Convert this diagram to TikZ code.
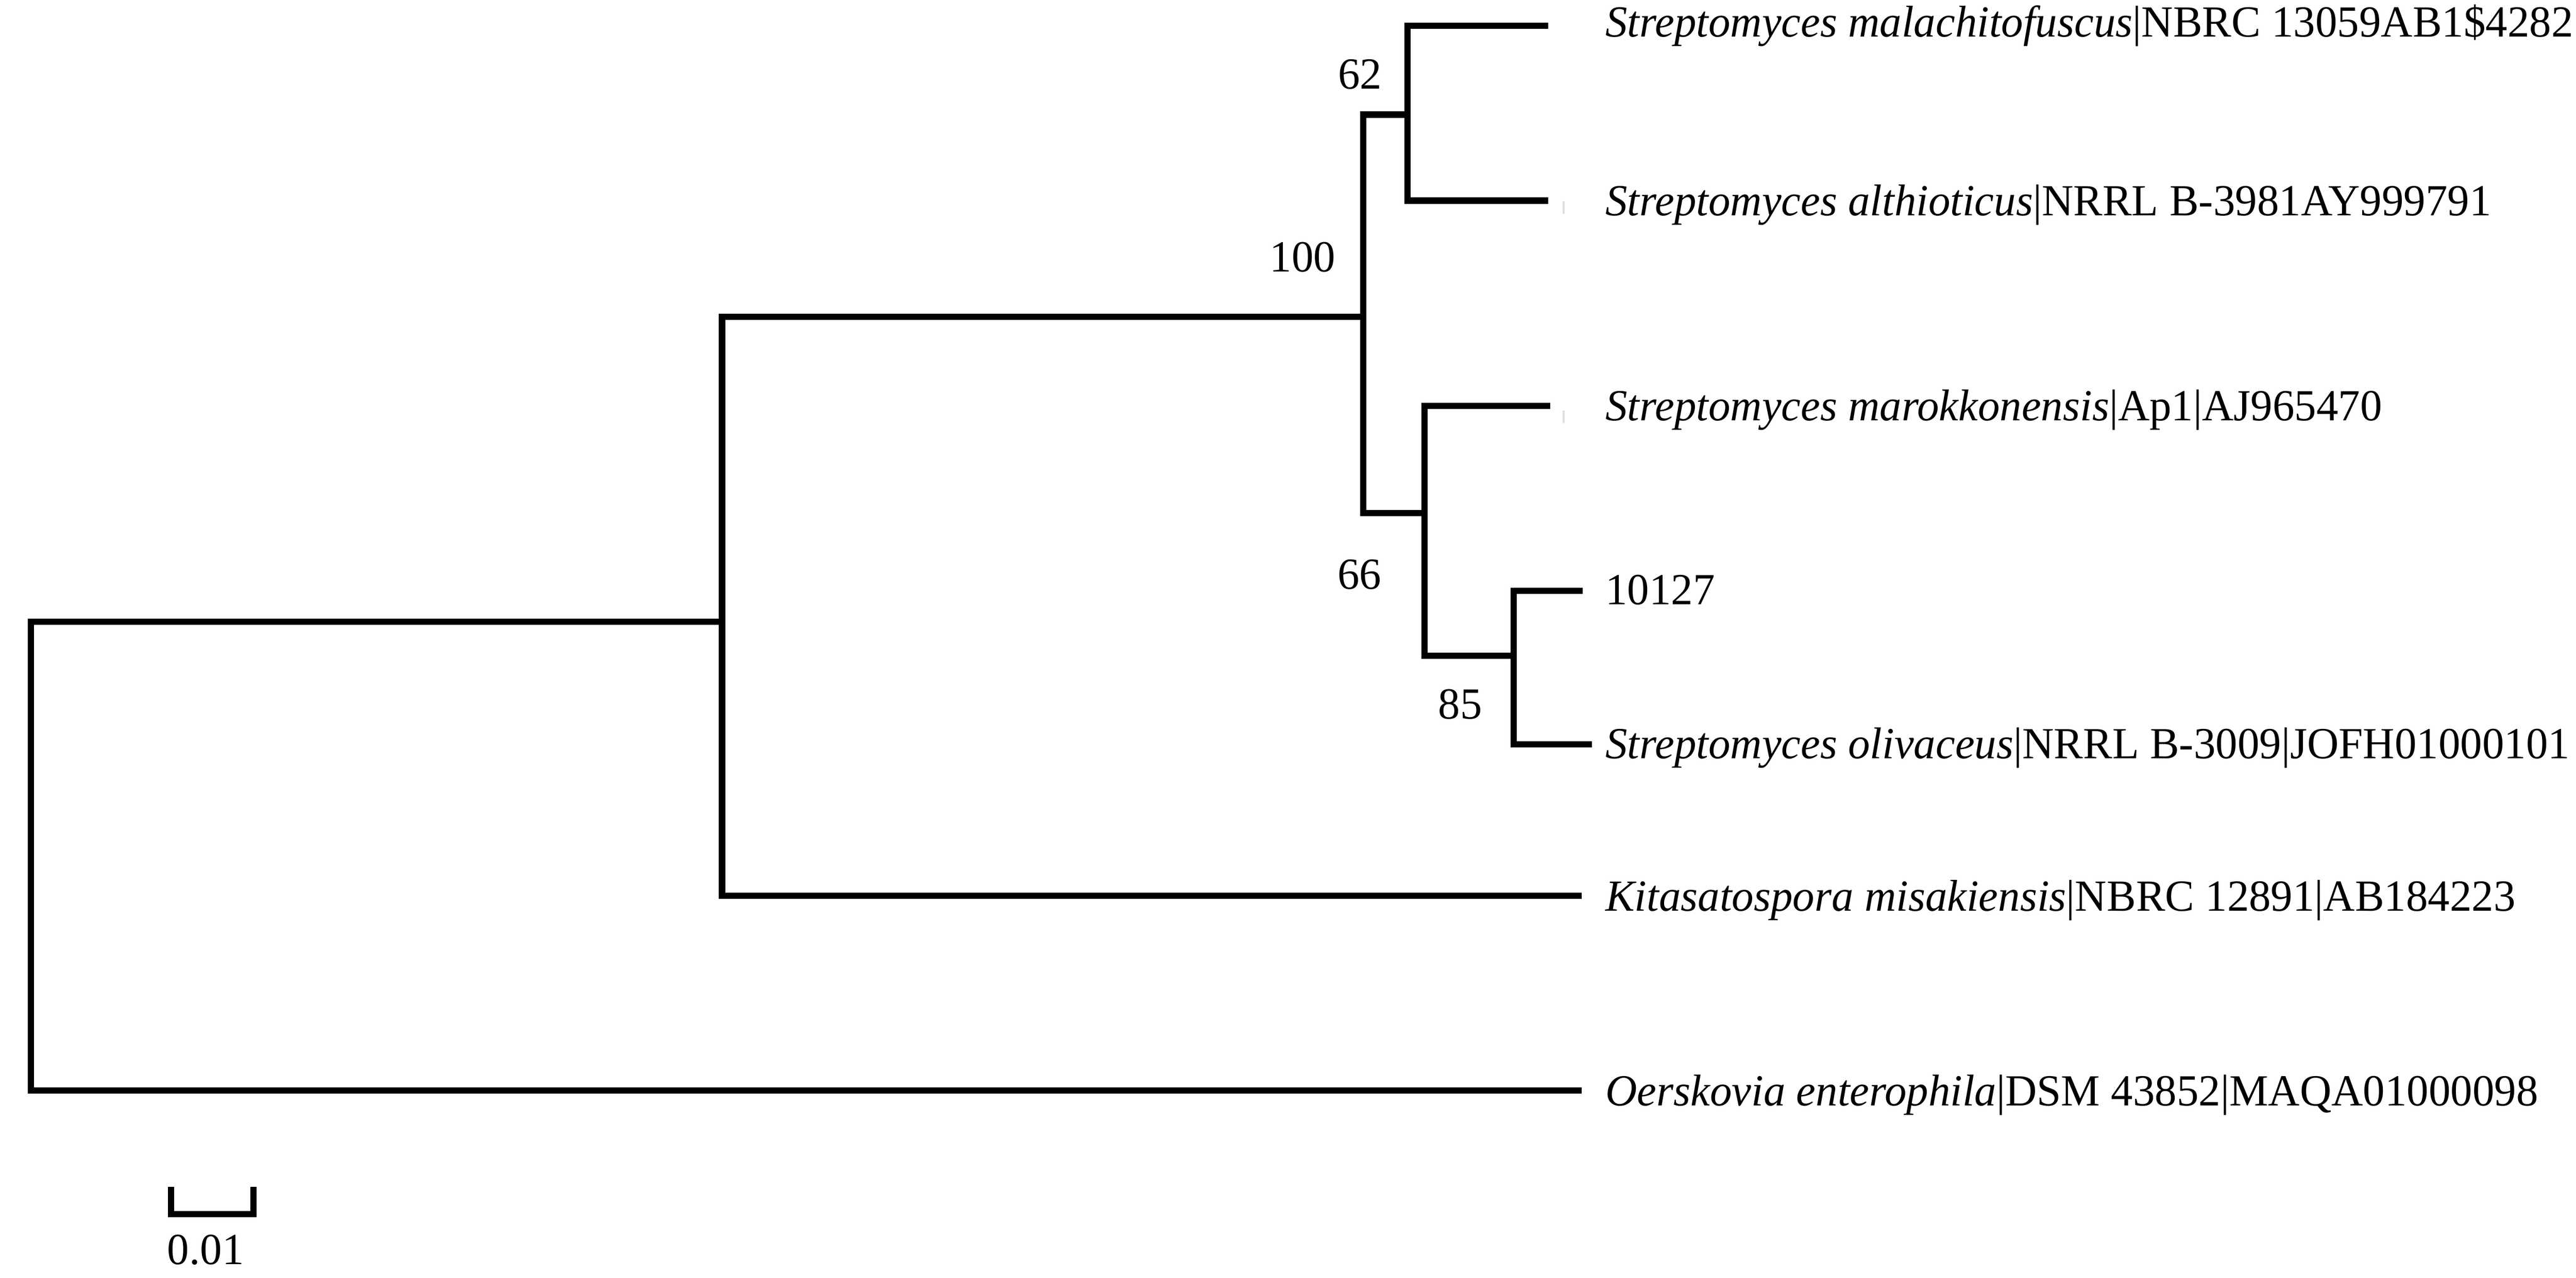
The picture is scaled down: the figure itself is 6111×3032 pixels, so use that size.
\documentclass[tikz,border=0pt]{standalone}
\usepackage{fontspec}
\setmainfont{Liberation Serif}[FakeStretch=0.985]

\begin{document}
\begin{tikzpicture}[x=0.1mm,y=-0.1mm,
  branch/.style = {line width=1.5mm, line join=miter, line cap=butt},
  leaf/.style = {anchor=base west, inner sep=0pt, font=\fontsize{30}{36}\selectfont},
  boot/.style = {inner sep=0pt, font=\fontsize{30}{36}\selectfont},
  smudge/.style = {draw=gray!25, line width=0.5mm}]
\useasboundingbox (0,0) rectangle (6111,3032);
\coordinate (R) at (73,1475);
\coordinate (A) at (1713,1475);
\coordinate (B) at (3234,752);
\coordinate (C) at (3339,272);
\coordinate (D) at (3379,1217);
\coordinate (E) at (3591,1556);
\coordinate (1) at (3673,61);
\coordinate (2) at (3673,476);
\coordinate (3) at (3677,963);
\coordinate (4) at (3755,1402);
\coordinate (5) at (3776,1766);
\coordinate (6) at (3752,2125);
\coordinate (7) at (3752,2587);
\draw[branch] (A) -- (R) |- (7);
\draw[branch] (A) |- (B);
\draw[branch] (A) |- (6);
\draw[branch] (B) |- (C);
\draw[branch] (B) |- (D);
\draw[branch] (C) |- (1);
\draw[branch] (C) |- (2);
\draw[branch] (D) |- (3);
\draw[branch] (D) |- (E);
\draw[branch] (E) |- (4);
\draw[branch] (E) |- (5);
\draw[smudge] (3709,478) -- (3709,507);
\draw[smudge] (3709,974) -- (3709,1003);
\node[leaf] (t1) at (3808,88) {\textit{Streptomyces malachitofuscus}|NBRC 13059AB1\$4282};
\node[leaf] (t2) at (3808,511) {\textit{Streptomyces althioticus}|NRRL B-3981AY999791};
\node[leaf] (t3) at (3808,998) {\textit{Streptomyces marokkonensis}|Ap1|AJ965470};
\node[leaf] (t4) at (3808,1434) {10127};
\node[leaf] (t5) at (3808,1800) {\textit{Streptomyces olivaceus}|NRRL B-3009|JOFH01000101};
\node[leaf] (t6) at (3808,2162) {\textit{Kitasatospora misakiensis}|NBRC 12891|AB184223};
\node[leaf] (t7) at (3808,2624) {\textit{Oerskovia enterophila}|DSM 43852|MAQA01000098};
\node[boot] (b62) at (3226,176) {62};
\node[boot] (b100) at (3090,610) {100};
\node[boot] (b66) at (3225,1363) {66};
\node[boot] (b85) at (3464,1671) {85};
\coordinate (s1) at (406,2816);
\coordinate (s2) at (406,2881);
\coordinate (s3) at (601,2881);
\coordinate (s4) at (601,2816);
\draw[branch] (s1) -- (s2) -- (s3) -- (s4);
\node[boot] (sc) at (488,2965) {0.01};
\end{tikzpicture}
\end{document}
